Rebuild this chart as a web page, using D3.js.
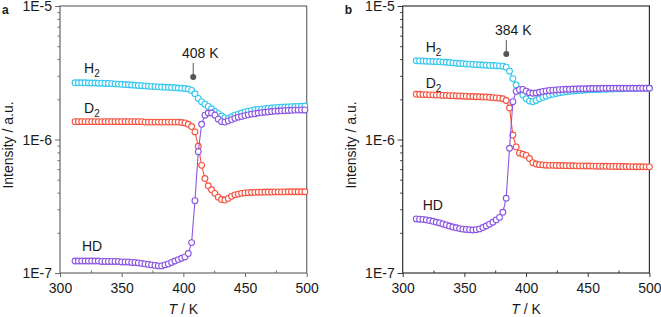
<!DOCTYPE html>
<html lang="en">
  <head>
    <meta charset="utf-8" />
    <title>H2 / D2 / HD intensity vs temperature</title>
    <script src="https://d3js.org/d3.v7.min.js"></script>
    <style>
      body { margin: 0; background: #fff; }
      text { font-family: "Liberation Sans", Arial, sans-serif; fill: #1a1a1a; }
      .tick text { font-size: 14px; }
      .label { font-size: 14px; }
      .letter { font-size: 12px; font-weight: bold; }
      .series-line { fill: none; stroke-width: 1.1; }
      .marker { fill: #fff; stroke-width: 1.1; }
    </style>
  </head>
  <body>
    <svg width="661" height="317"></svg>
    <script>
      // temperatures (K) of the sampled points
      const tempsA = [312.2, 314.9, 317.6, 320.3, 323.0, 325.7, 328.4, 331.1, 333.8, 336.5,
        339.2, 341.9, 344.6, 347.3, 350.0, 352.7, 355.4, 358.1, 360.8, 363.5,
        366.2, 368.9, 371.6, 374.3, 377.0, 379.7, 382.4, 385.1, 387.8, 390.5,
        393.2, 395.9, 398.6, 401.3, 404.0, 406.7, 409.4, 412.1, 414.8, 417.5,
        420.2, 422.9, 425.6, 428.3, 431.0, 433.7, 436.4, 439.1, 441.8, 444.5,
        447.2, 449.9, 452.6, 455.3, 458.0, 460.7, 463.4, 466.1, 468.8, 471.5,
        474.2, 476.9, 479.6, 482.3, 485.0, 487.7, 490.4, 493.1, 495.8, 498.5];
      const tempsB = [311.0, 313.7, 316.4, 319.1, 321.8, 324.5, 327.2, 329.9, 332.6, 335.3,
        338.0, 340.7, 343.4, 346.1, 348.8, 351.5, 354.2, 356.9, 359.6, 362.3,
        365.0, 367.7, 370.4, 373.1, 375.8, 378.5, 381.2, 383.9, 386.6, 389.3,
        392.0, 394.7, 397.4, 400.1, 402.8, 405.5, 408.2, 410.9, 413.6, 416.3,
        419.0, 421.7, 424.4, 427.1, 429.8, 432.5, 435.2, 437.9, 440.6, 443.3,
        446.0, 448.7, 451.4, 454.1, 456.8, 459.5, 462.2, 464.9, 467.6, 470.3,
        473.0, 475.7, 478.4, 481.1, 483.8, 486.5, 489.2, 491.9, 494.6, 497.3, 500.0];

      // panel a, intensities (H2, D2 in 1e-6; HD in 1e-7)
      const h2A = [2.66, 2.66, 2.66, 2.66, 2.65, 2.65, 2.65, 2.64, 2.64, 2.63,
        2.63, 2.62, 2.61, 2.60, 2.59, 2.58, 2.57, 2.56, 2.55, 2.54,
        2.53, 2.52, 2.51, 2.50, 2.49, 2.48, 2.47, 2.46, 2.46, 2.45,
        2.44, 2.43, 2.42, 2.41, 2.39, 2.33, 2.20, 2.03, 1.92, 1.84,
        1.77, 1.70, 1.62, 1.56, 1.50, 1.45, 1.44, 1.48, 1.52, 1.55,
        1.58, 1.61, 1.63, 1.65, 1.67, 1.68, 1.69, 1.70, 1.71, 1.72,
        1.73, 1.74, 1.745, 1.75, 1.755, 1.76, 1.765, 1.77, 1.775, 1.78];
      const d2A = [1.36, 1.36, 1.36, 1.36, 1.36, 1.36, 1.36, 1.36, 1.36, 1.36,
        1.36, 1.36, 1.36, 1.36, 1.36, 1.36, 1.36, 1.36, 1.36, 1.36,
        1.36, 1.35, 1.35, 1.35, 1.35, 1.35, 1.35, 1.35, 1.35, 1.35,
        1.35, 1.35, 1.34, 1.33, 1.30, 1.25, 1.14, 0.89, 0.64, 0.51,
        0.45, 0.42, 0.395, 0.37, 0.355, 0.352, 0.362, 0.375, 0.385, 0.39,
        0.395, 0.398, 0.40, 0.401, 0.402, 0.403, 0.403, 0.404, 0.404, 0.404,
        0.405, 0.405, 0.405, 0.405, 0.406, 0.406, 0.406, 0.406, 0.406, 0.406];
      const hdA = [1.23, 1.23, 1.23, 1.23, 1.23, 1.23, 1.23, 1.23, 1.22, 1.22,
        1.22, 1.22, 1.22, 1.22, 1.21, 1.21, 1.21, 1.20, 1.20, 1.19,
        1.18, 1.17, 1.16, 1.15, 1.14, 1.13, 1.13, 1.15, 1.17, 1.20,
        1.23, 1.26, 1.29, 1.32, 1.40, 1.69, 3.48, 8.10, 13.0, 15.2,
        15.8, 15.8, 15.2, 14.2, 13.6, 13.5, 13.8, 14.1, 14.4, 14.7,
        14.9, 15.1, 15.3, 15.5, 15.6, 15.8, 15.9, 16.0, 16.1, 16.2,
        16.3, 16.35, 16.4, 16.45, 16.5, 16.55, 16.6, 16.6, 16.65, 16.65];

      // panel b, intensities (H2, D2 in 1e-6; HD in 1e-7)
      const h2B = [3.89, 3.88, 3.87, 3.86, 3.85, 3.84, 3.83, 3.82, 3.80, 3.79,
        3.77, 3.75, 3.73, 3.71, 3.70, 3.68, 3.67, 3.65, 3.64, 3.63,
        3.61, 3.60, 3.59, 3.58, 3.57, 3.56, 3.54, 3.48, 3.25, 2.86,
        2.56, 2.32, 2.15, 2.02, 1.94, 1.92, 1.96, 2.02, 2.07, 2.11,
        2.15, 2.18, 2.21, 2.24, 2.26, 2.28, 2.30, 2.31, 2.32, 2.33,
        2.34, 2.35, 2.36, 2.36, 2.37, 2.37, 2.38, 2.38, 2.39, 2.39,
        2.40, 2.40, 2.40, 2.41, 2.41, 2.41, 2.41, 2.42, 2.42, 2.42, 2.42];
      const d2B = [2.18, 2.18, 2.17, 2.17, 2.16, 2.16, 2.15, 2.15, 2.14, 2.14,
        2.13, 2.13, 2.12, 2.12, 2.11, 2.11, 2.10, 2.10, 2.09, 2.09,
        2.08, 2.08, 2.07, 2.06, 2.05, 2.04, 2.02, 1.96, 1.72, 1.08,
        0.88, 0.79, 0.775, 0.76, 0.72, 0.67, 0.655, 0.648, 0.645, 0.642,
        0.640, 0.640, 0.639, 0.638, 0.638, 0.637, 0.636, 0.636, 0.635, 0.634,
        0.634, 0.633, 0.633, 0.632, 0.631, 0.631, 0.630, 0.630, 0.629, 0.629,
        0.628, 0.628, 0.627, 0.627, 0.626, 0.626, 0.625, 0.625, 0.625, 0.624, 0.624];
      const hdB = [2.54, 2.53, 2.52, 2.50, 2.47, 2.44, 2.40, 2.37, 2.33, 2.29,
        2.25, 2.21, 2.18, 2.15, 2.13, 2.12, 2.11, 2.10, 2.11, 2.14,
        2.19, 2.25, 2.32, 2.40, 2.50, 2.61, 2.85, 3.63, 8.60, 19.2,
        22.9, 23.6, 23.7, 23.0, 22.4, 22.2, 22.3, 22.6, 22.9, 23.1,
        23.3, 23.4, 23.5, 23.6, 23.7, 23.8, 23.8, 23.9, 23.9, 24.0,
        24.0, 24.0, 24.1, 24.1, 24.1, 24.1, 24.2, 24.2, 24.2, 24.2,
        24.2, 24.2, 24.2, 24.2, 24.2, 24.2, 24.2, 24.2, 24.2, 24.2, 24.2];

      const xTicks = [300, 350, 400, 450, 500];
      const xMinorTicks = [325, 375, 425, 475];
      const yTicks = [1e-7, 1e-6, 1e-5];
      const yMinorTicks = [2e-7, 3e-7, 4e-7, 5e-7, 6e-7, 7e-7, 8e-7, 9e-7,
        2e-6, 3e-6, 4e-6, 5e-6, 6e-6, 7e-6, 8e-6, 9e-6];

      const colours = { H2: "#33c7ef", D2: "#f5513d", HD: "#8a54e2" };

      const svg = d3.select("svg");
      const plotTop = 6, plotBottom = 273, plotW = 246.7;

      const panels = [
        {
          letter: "a", left: 60, frame: "#6a6a6a", temps: tempsA,
          series: [["H2", h2A, 1e-6], ["D2", d2A, 1e-6], ["HD", hdA, 1e-7]],
          mark: 408, markY: 2.94e-6,
          labels: { H2: [24, 73], D2: [24, 113], HD: [22, 251] }
        },
        {
          letter: "b", left: 402.7, frame: "#333", temps: tempsB,
          series: [["H2", h2B, 1e-6], ["D2", d2B, 1e-6], ["HD", hdB, 1e-7]],
          mark: 384, markY: 4.37e-6,
          labels: { H2: [23, 52], D2: [23, 88], HD: [20, 210] }
        }
      ];

      panels.forEach((p) => {
        const g = svg.append("g").attr("transform", "translate(" + p.left + ",0)");
        const x = d3.scaleLinear().domain([300, 500]).range([0, plotW]);
        const y = d3.scaleLog().domain([1e-7, 1e-5]).range([plotBottom, plotTop]);

        // minor ticks
        g.append("g")
          .attr("transform", "translate(0," + plotBottom + ")")
          .call(d3.axisTop(x).tickValues(xMinorTicks).tickSize(2.5).tickFormat(""))
          .call((s) => s.select(".domain").remove())
          .selectAll("line").attr("stroke", p.frame);
        g.append("g")
          .call(d3.axisLeft(y).tickValues(yMinorTicks).tickSize(2.5).tickFormat(""))
          .call((s) => s.select(".domain").remove())
          .selectAll("line").attr("stroke", p.frame);

        // major axes
        const xa = g.append("g")
          .attr("transform", "translate(0," + plotBottom + ")")
          .call(d3.axisBottom(x).tickValues(xTicks).tickSize(4).tickPadding(6));
        xa.select(".domain").remove();
        xa.selectAll("line").attr("stroke", p.frame);

        const ya = g.append("g")
          .call(d3.axisLeft(y).tickValues(yTicks).tickSize(5).tickPadding(3)
            .tickFormat((d) => "1E" + Math.round(Math.log10(d))));
        ya.select(".domain").remove();
        ya.selectAll("line").attr("stroke", p.frame);
        ya.selectAll("text").attr("dy", "0.35em");

        // frame
        g.append("rect")
          .attr("x", 0).attr("y", plotTop)
          .attr("width", plotW).attr("height", plotBottom - plotTop)
          .attr("fill", "none").attr("stroke", p.frame).attr("stroke-width", 1.2);

        // series: lines then open circles
        p.series.forEach(([name, vals, unit]) => {
          const pts = vals.map((v, i) => [p.temps[i], v * unit]);
          const line = d3.line().x((d) => x(d[0])).y((d) => y(d[1]));
          g.append("path")
            .datum(pts)
            .attr("class", "series-line")
            .attr("stroke", colours[name])
            .attr("d", line);
          g.append("g")
            .selectAll("circle")
            .data(pts)
            .join("circle")
            .attr("class", "marker")
            .attr("stroke", colours[name])
            .attr("cx", (d) => x(d[0]))
            .attr("cy", (d) => y(d[1]))
            .attr("r", 2.9);
        });

        // series labels
        Object.entries(p.labels).forEach(([name, pos]) => {
          const t = g.append("text").attr("class", "label").attr("x", pos[0]).attr("y", pos[1]);
          if (name === "HD") {
            t.text("HD");
          } else {
            t.append("tspan").text(name[0]);
            t.append("tspan").attr("font-size", "10px").attr("dy", 4).text("2");
          }
        });

        // transition marker
        const mx = x(p.mark), my = y(p.markY);
        g.append("line")
          .attr("x1", mx).attr("x2", mx)
          .attr("y1", my - 14).attr("y2", my)
          .attr("stroke", "#555").attr("stroke-width", 1);
        g.append("circle")
          .attr("cx", mx).attr("cy", my).attr("r", 3)
          .attr("fill", "#555");
        g.append("text")
          .attr("class", "label")
          .attr("x", mx + 7).attr("y", my - 19)
          .attr("text-anchor", "middle")
          .text(p.mark + " K");

        // axis titles
        g.append("text")
          .attr("class", "label")
          .attr("transform", "translate(-47," + 145 + ") rotate(-90)")
          .attr("text-anchor", "middle")
          .text("Intensity / a.u.");
        const xt = g.append("text")
          .attr("class", "label")
          .attr("x", plotW / 2).attr("y", 314)
          .attr("text-anchor", "middle");
        xt.append("tspan").attr("font-style", "italic").text("T");
        xt.append("tspan").text(" / K");

        svg.append("text")
          .attr("class", "letter")
          .attr("x", p.left - 58).attr("y", 14)
          .text(p.letter);
      });
    </script>
  </body>
</html>
